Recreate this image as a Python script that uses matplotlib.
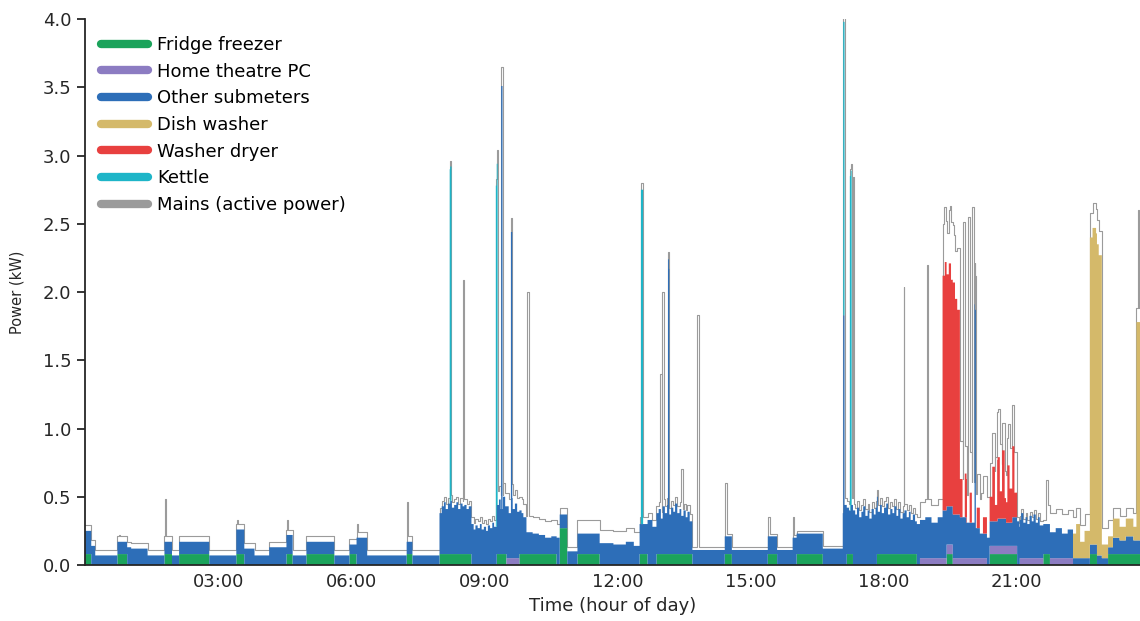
import numpy as np
import matplotlib.pyplot as plt
from matplotlib.lines import Line2D

# time axis is hours from midnight
END_HOUR = 23.78

TICK_HOURS = [3, 6, 9, 12, 15, 18, 21]
TICK_LABELS = ["03:00", "06:00", "09:00", "12:00", "15:00", "18:00", "21:00"]

# (start hour, end hour, kW) steps, one list per appliance
FRIDGE = [
    (0.00, 0.14, 0.08), (0.73, 0.95, 0.08), (1.79, 1.96, 0.08), (2.12, 2.80, 0.08),
    (3.41, 3.59, 0.08), (4.54, 4.68, 0.08), (4.99, 5.62, 0.08), (5.96, 6.12, 0.08),
    (7.25, 7.38, 0.08), (7.99, 8.71, 0.08), (9.28, 9.50, 0.08), (9.79, 10.63, 0.08),
    (10.70, 10.87, 0.27), (11.10, 11.60, 0.08), (12.50, 12.68, 0.08), (12.88, 13.69, 0.08),
    (14.42, 14.58, 0.08), (15.39, 15.60, 0.08), (16.04, 16.63, 0.08), (17.17, 17.31, 0.08),
    (17.85, 18.75, 0.08), (19.42, 19.56, 0.08), (20.39, 21.01, 0.08), (21.60, 21.75, 0.08),
    (22.65, 22.81, 0.08), (23.06, 23.78, 0.08),
]

HTPC = [
    (9.50, 9.79, 0.05), (18.82, 19.42, 0.05), (19.42, 19.56, 0.07), (19.56, 20.33, 0.05),
    (20.39, 21.01, 0.06), (21.07, 21.60, 0.05), (21.75, 22.27, 0.05),
]

# other submeters: (hour, kW) level held until the next entry
OTHER_STEPS = [
    (0.00, 0.17), (0.14, 0.14), (0.23, 0.07), (0.73, 0.09), (0.95, 0.13), (1.04, 0.12),
    (1.41, 0.07), (1.79, 0.09), (1.96, 0.07), (2.12, 0.09), (2.80, 0.07), (3.41, 0.18),
    (3.59, 0.12), (3.82, 0.07), (4.15, 0.13), (4.54, 0.14), (4.68, 0.07), (4.99, 0.09),
    (5.62, 0.07), (6.12, 0.20), (6.36, 0.07), (7.25, 0.09), (7.38, 0.07),
    (7.99, 0.30), (8.04, 0.35), (8.09, 0.38), (8.13, 0.33), (8.18, 0.37), (8.23, 0.39),
    (8.27, 0.34), (8.32, 0.36), (8.37, 0.38), (8.41, 0.33), (8.46, 0.37), (8.51, 0.35),
    (8.55, 0.36), (8.60, 0.33), (8.65, 0.35), (8.71, 0.30), (8.76, 0.26), (8.80, 0.29),
    (8.85, 0.27), (8.90, 0.30), (8.94, 0.26), (8.99, 0.28), (9.04, 0.25), (9.08, 0.29),
    (9.13, 0.27), (9.18, 0.31), (9.22, 0.28), (9.28, 0.36), (9.33, 0.40), (9.37, 0.33),
    (9.42, 0.42), (9.47, 0.35), (9.50, 0.38), (9.55, 0.33), (9.60, 0.44), (9.64, 0.36),
    (9.69, 0.40), (9.74, 0.34), (9.79, 0.32), (9.84, 0.30), (9.88, 0.27),
    (9.95, 0.16), (10.09, 0.15), (10.23, 0.14), (10.37, 0.12), (10.51, 0.13), (10.63, 0.20),
    (10.70, 0.10), (11.10, 0.15), (11.60, 0.16), (11.91, 0.15), (12.19, 0.17), (12.37, 0.14),
    (12.50, 0.22), (12.68, 0.33), (12.79, 0.28), (12.88, 0.30), (12.93, 0.33), (12.98, 0.26),
    (13.02, 0.35), (13.07, 0.30), (13.12, 0.36), (13.16, 0.29), (13.21, 0.34), (13.26, 0.31),
    (13.30, 0.37), (13.35, 0.30), (13.40, 0.33), (13.44, 0.28), (13.49, 0.32), (13.54, 0.27),
    (13.58, 0.31), (13.63, 0.24), (13.69, 0.11), (14.42, 0.13), (14.58, 0.11), (15.39, 0.13),
    (15.60, 0.11), (15.95, 0.20), (16.04, 0.15), (16.63, 0.12),
    (17.08, 0.38), (17.12, 0.44), (17.17, 0.34), (17.22, 0.32), (17.26, 0.36), (17.31, 0.40),
    (17.36, 0.37), (17.40, 0.42), (17.45, 0.35), (17.50, 0.39), (17.54, 0.43), (17.59, 0.36),
    (17.64, 0.40), (17.68, 0.34), (17.73, 0.41), (17.78, 0.37), (17.82, 0.42), (17.87, 0.31),
    (17.92, 0.36), (17.96, 0.30), (18.01, 0.34), (18.06, 0.37), (18.10, 0.29), (18.15, 0.33),
    (18.20, 0.30), (18.24, 0.35), (18.29, 0.28), (18.33, 0.33), (18.38, 0.26), (18.43, 0.30),
    (18.47, 0.32), (18.52, 0.27), (18.57, 0.31), (18.61, 0.25), (18.66, 0.29), (18.71, 0.24),
    (18.75, 0.30), (18.82, 0.28), (18.94, 0.30), (19.08, 0.26), (19.22, 0.30), (19.33, 0.35),
    (19.42, 0.28), (19.56, 0.32), (19.72, 0.30), (19.87, 0.26), (20.06, 0.22), (20.17, 0.18),
    (20.33, 0.20), (20.39, 0.18), (20.57, 0.20), (20.76, 0.17), (20.90, 0.21),
    (21.01, 0.32), (21.06, 0.28), (21.10, 0.33), (21.15, 0.26), (21.20, 0.30), (21.24, 0.25),
    (21.29, 0.31), (21.34, 0.27), (21.38, 0.32), (21.43, 0.26), (21.48, 0.30), (21.52, 0.24),
    (21.60, 0.22), (21.75, 0.19), (21.88, 0.22), (22.02, 0.18), (22.15, 0.21),
    (22.27, 0.05), (22.65, 0.07), (22.92, 0.05), (23.17, 0.12), (23.32, 0.10), (23.46, 0.13),
    (23.63, 0.10),
]

OTHER_SPIKES = [
    (9.38, 9.41, 3.10), (9.60, 9.63, 1.95), (13.14, 13.17, 1.80),
    (17.09, 17.12, 1.45), (20.05, 20.08, 1.60),
]

DISH_WASHER = [
    (22.27, 22.34, 0.18), (22.34, 22.43, 0.25), (22.43, 22.53, 0.12), (22.53, 22.65, 0.20),
    (22.65, 22.71, 2.25), (22.71, 22.79, 2.32), (22.79, 22.85, 2.28), (22.85, 22.92, 2.20),
    (22.92, 23.06, 0.10), (23.06, 23.17, 0.08), (23.17, 23.32, 0.14), (23.32, 23.46, 0.10),
    (23.46, 23.63, 0.13), (23.63, 23.70, 0.10), (23.70, 23.78, 1.60),
]

WASHER_DRYER = [
    (19.33, 19.38, 1.72), (19.38, 19.42, 1.82), (19.42, 19.47, 1.70), (19.47, 19.52, 1.78),
    (19.52, 19.56, 1.66), (19.56, 19.61, 1.70), (19.61, 19.66, 1.58), (19.66, 19.72, 1.50),
    (19.72, 19.78, 0.28), (19.83, 19.88, 0.32), (19.94, 19.99, 0.22), (20.10, 20.17, 0.15),
    (20.24, 20.33, 0.12), (20.39, 20.45, 0.18), (20.45, 20.51, 0.40), (20.51, 20.56, 0.12),
    (20.56, 20.62, 0.45), (20.62, 20.67, 0.20), (20.67, 20.73, 0.50), (20.73, 20.79, 0.15),
    (20.79, 20.84, 0.42), (20.84, 20.90, 0.25), (20.90, 20.95, 0.52), (20.95, 21.01, 0.18),
]

KETTLE = [
    (8.22, 8.26, 2.45), (9.26, 9.30, 2.50), (12.53, 12.58, 2.45),
    (17.09, 17.12, 2.15), (17.24, 17.28, 2.45),
]

# mains minus all submeters, (hour, kW) held until the next entry
UNMETERED_STEPS = [
    (0.00, 0.04), (8.71, 0.05), (9.28, 0.10), (9.95, 0.12), (10.63, 0.10), (10.70, 0.05),
    (10.87, 0.03), (11.10, 0.10), (12.50, 0.05), (13.69, 0.02), (17.08, 0.05), (18.82, 0.13),
    (19.33, 0.38), (19.41, 0.30), (19.50, 0.42), (19.59, 0.35), (19.66, 0.45), (19.72, 0.28),
    (19.83, 0.20), (19.94, 0.30), (20.06, 0.25), (20.20, 0.30), (20.39, 0.25), (20.52, 0.35),
    (20.66, 0.20), (20.80, 0.30), (21.01, 0.03), (21.68, 0.14), (22.27, 0.12), (22.65, 0.18),
    (22.92, 0.12), (23.17, 0.08), (23.63, 0.10),
]

# short mains peaks, (start, end, peak kW)
MAINS_PEAKS = [
    (0.02, 0.05, 0.28), (0.76, 0.79, 0.22), (1.80, 1.83, 0.48), (3.42, 3.45, 0.33),
    (4.55, 4.57, 0.33), (6.13, 6.16, 0.30), (7.25, 7.28, 0.46), (8.52, 8.55, 2.09),
    (9.38, 9.41, 3.65), (9.97, 10.00, 2.00), (12.97, 13.00, 1.40), (13.01, 13.04, 2.00),
    (13.44, 13.47, 0.70), (13.80, 13.83, 1.83), (14.43, 14.46, 0.60), (15.40, 15.43, 0.35),
    (15.96, 15.99, 0.35), (17.09, 17.12, 4.00), (17.24, 17.28, 2.89), (17.30, 17.33, 2.84),
    (18.45, 18.47, 2.04), (18.97, 19.00, 2.20), (19.36, 19.40, 2.62), (19.47, 19.50, 2.60),
    (19.80, 19.83, 2.51), (19.91, 19.94, 2.55), (20.00, 20.03, 2.62), (20.91, 20.93, 1.08),
    (21.67, 21.70, 0.62), (22.71, 22.76, 2.60), (23.73, 23.76, 2.60),
]

COLORS = {
    "Fridge freezer": "#1ba35b",
    "Home theatre PC": "#8c7cc2",
    "Other submeters": "#2d6eb8",
    "Dish washer": "#d4b96a",
    "Washer dryer": "#e8403f",
    "Kettle": "#1eb5c8",
    "Mains (active power)": "#9b9b9b",
}


def steps_to_segments(steps):
    segs = []
    for i, (t, v) in enumerate(steps):
        t_next = steps[i + 1][0] if i + 1 < len(steps) else END_HOUR
        segs.append((t, t_next, v))
    return segs


other_segs = steps_to_segments(OTHER_STEPS) + OTHER_SPIKES
unmetered_segs = steps_to_segments(UNMETERED_STEPS)
all_lists = [FRIDGE, HTPC, other_segs, DISH_WASHER, WASHER_DRYER, KETTLE,
             unmetered_segs, MAINS_PEAKS]

times = {0.0, END_HOUR}
for segs in all_lists:
    for s, e, _ in segs:
        times.add(s)
        times.add(e)
edges = np.array(sorted(times))
mid = (edges[:-1] + edges[1:]) / 2


def level(segs):
    vals = np.zeros(len(mid))
    for s, e, v in segs:
        vals[(mid >= s) & (mid < e)] += v
    return vals


layers = [
    ("Fridge freezer", level(FRIDGE)),
    ("Home theatre PC", level(HTPC)),
    ("Other submeters", level(other_segs)),
    ("Dish washer", level(DISH_WASHER)),
    ("Washer dryer", level(WASHER_DRYER)),
    ("Kettle", level(KETTLE)),
]

peaks = np.zeros(len(mid))
for s, e, v in MAINS_PEAKS:
    sel = (mid >= s) & (mid < e)
    peaks[sel] = np.maximum(peaks[sel], v)

fig = plt.figure(figsize=(11.4, 6.21), dpi=100)
ax = fig.add_axes([0.0746, 0.0902, 0.9254, 0.879])

bottom = np.zeros(len(mid))
for name, vals in layers:
    top = bottom + vals
    ax.fill_between(edges, np.append(bottom, bottom[-1]), np.append(top, top[-1]),
                    step="post", facecolor=COLORS[name], linewidth=0, zorder=2)
    bottom = top

mains = np.maximum(bottom + level(unmetered_segs), peaks)
ax.step(edges, np.append(mains, mains[-1]), where="post",
        color=COLORS["Mains (active power)"], linewidth=0.8, zorder=1)

ax.set_xlim(0, END_HOUR)
ax.set_ylim(0, 4.0)
ax.set_xticks(TICK_HOURS)
ax.set_xticklabels(TICK_LABELS)
ax.set_yticks(np.arange(0, 4.01, 0.5))
ax.set_yticklabels([f"{v:.1f}" for v in np.arange(0, 4.01, 0.5)])

for side in ["top", "right"]:
    ax.spines[side].set_visible(False)
for side in ["left", "bottom"]:
    ax.spines[side].set_color("#262626")
    ax.spines[side].set_linewidth(1.3)

ax.tick_params(axis="x", length=0, pad=6, labelsize=13, labelcolor="#262626")
ax.tick_params(axis="y", length=6, width=1.3, pad=4, labelsize=13,
               color="#262626", labelcolor="#262626")
ax.set_xlabel("Time (hour of day)", fontsize=13, color="#262626", labelpad=4)
ax.set_ylabel("Power (kW)", fontsize=10.5, color="#262626", labelpad=13)

handles = [Line2D([0], [0], color=c, linewidth=6, solid_capstyle="round")
           for c in COLORS.values()]
ax.legend(handles, list(COLORS.keys()), loc="upper left", frameon=False,
          fontsize=13, handlelength=2.6, handletextpad=0.5, labelspacing=0.48,
          bbox_to_anchor=(0.003, 0.992), borderaxespad=0.3)

fig.savefig("out.png", dpi=100)
